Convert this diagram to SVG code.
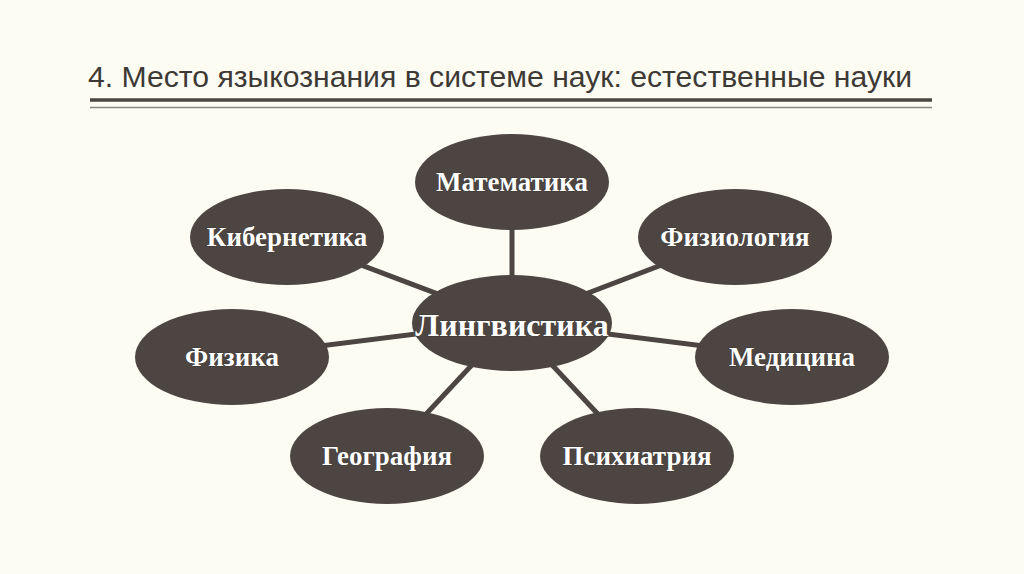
<svg xmlns="http://www.w3.org/2000/svg" width="1024" height="574" viewBox="0 0 1024 574">
<style>
.bg{fill:#fdfcf3}
.node ellipse{fill:#4d4542}
.node text{font-family:"Liberation Serif",serif;font-weight:bold;font-size:27px;fill:#ffffff;text-anchor:middle;stroke:#2a2523;stroke-width:0.6px;paint-order:stroke}
#connectors line{stroke:#4d4542;stroke-width:5}
.title{font-family:"Liberation Sans",sans-serif;font-size:30px;fill:#3d3a36}
</style>
<rect class="bg" width="1024" height="574"/>
<text class="title" x="88" y="87" textLength="824" lengthAdjust="spacingAndGlyphs">4. Место языкознания в системе наук: естественные науки</text>
<line x1="90" y1="100" x2="932" y2="100" stroke="#4a4642" stroke-width="3.5"/>
<line x1="90" y1="107.5" x2="932" y2="107.5" stroke="#8a8680" stroke-width="1.5"/>
<g id="connectors">
<line x1="512" y1="182" x2="512" y2="322"/>
<line x1="287" y1="237" x2="512" y2="322"/>
<line x1="735" y1="237" x2="512" y2="322"/>
<line x1="232" y1="357" x2="512" y2="322"/>
<line x1="792" y1="357" x2="512" y2="322"/>
<line x1="387" y1="456" x2="512" y2="322"/>
<line x1="637" y1="456" x2="512" y2="322"/>
</g>
<g id="n-math" class="node"><ellipse cx="512" cy="182" rx="97" ry="48"/><text x="512" y="191">Математика</text></g>
<g id="n-kib" class="node"><ellipse cx="287" cy="237" rx="97" ry="48"/><text x="287" y="246">Кибернетика</text></g>
<g id="n-fiziol" class="node"><ellipse cx="735" cy="237" rx="97" ry="48"/><text x="735" y="246">Физиология</text></g>
<g id="n-ling" class="node"><ellipse cx="512" cy="323" rx="100" ry="48"/><text x="512" y="336" style="font-size:32px">Лингвистика</text></g>
<g id="n-fiz" class="node"><ellipse cx="232" cy="357" rx="97" ry="48"/><text x="232" y="366">Физика</text></g>
<g id="n-med" class="node"><ellipse cx="792" cy="357" rx="97" ry="48"/><text x="792" y="366">Медицина</text></g>
<g id="n-geo" class="node"><ellipse cx="387" cy="456" rx="97" ry="48"/><text x="387" y="465">География</text></g>
<g id="n-psy" class="node"><ellipse cx="637" cy="456" rx="97" ry="48"/><text x="637" y="465">Психиатрия</text></g>
</svg>
